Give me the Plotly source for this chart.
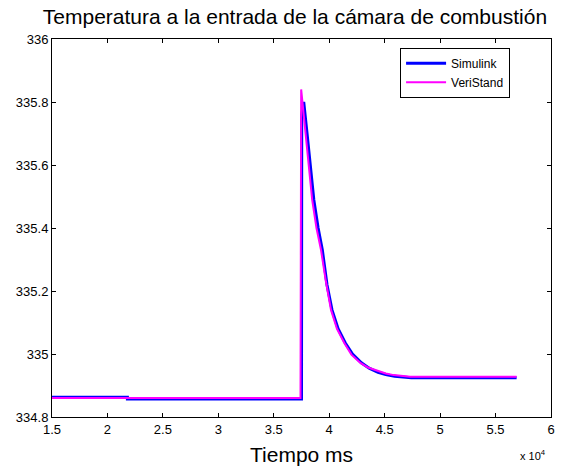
import plotly.graph_objects as go

# Simulink (blue) – time in ms, temperature
sim_t = [15000, 21800, 21800, 37500, 37520, 37700, 38000, 38300, 38610, 39000, 39380,
         39800, 40250, 40800, 41450, 42100, 42900, 43600, 44400, 45100, 45900, 47400, 56900]
sim_v = [334.863, 334.863, 334.857, 334.857, 335.76, 335.80, 335.70, 335.59, 335.49, 335.40, 335.33,
         335.22, 335.14, 335.08, 335.035, 335.00, 334.972, 334.955, 334.942, 334.935, 334.929, 334.925, 334.925]

# VeriStand (magenta)
ver_t = [15000, 37410, 37470, 37700, 37980, 38200, 38460, 38850, 39260, 39700, 40160,
         40700, 41360, 42000, 42840, 43500, 44340, 45100, 45830, 47290, 56900]
ver_v = [334.860, 334.860, 335.84, 335.76, 335.66, 335.57, 335.49, 335.40, 335.33, 335.23, 335.14,
         335.08, 335.035, 334.998, 334.971, 334.957, 334.946, 334.938, 334.933, 334.928, 334.928]

x_tickvals = [15000, 20000, 25000, 30000, 35000, 40000, 45000, 50000, 55000, 60000]
x_ticktext = ["1.5", "2", "2.5", "3", "3.5", "4", "4.5", "5", "5.5", "6"]
y_tickvals = [334.8, 335.0, 335.2, 335.4, 335.6, 335.8, 336.0]
y_ticktext = ["334.8", "335", "335.2", "335.4", "335.6", "335.8", "336"]

FONT = "Liberation Sans, Arial, sans-serif"

fig = go.Figure()
fig.add_trace(go.Scatter(x=sim_t, y=sim_v, mode="lines", name="Simulink",
                         line=dict(color="#0000FF", width=3)))
fig.add_trace(go.Scatter(x=ver_t, y=ver_v, mode="lines", name="VeriStand",
                         line=dict(color="#FF00FF", width=2)))

fig.update_layout(
    width=565, height=466,
    margin=dict(l=52, r=10, t=39, b=49),
    paper_bgcolor="white", plot_bgcolor="white",
    font=dict(family=FONT, color="black", size=12),
    title=dict(text="Temperatura a la entrada de la cámara de combustión",
               x=0.522, xanchor="center", y=0.964, yanchor="middle",
               font=dict(size=21, family=FONT, color="black")),
    showlegend=True,
    legend=dict(x=0.918, y=0.977, xanchor="right", yanchor="top",
                bgcolor="white", bordercolor="black", borderwidth=1,
                font=dict(size=12, family=FONT, color="black"),
                tracegroupgap=0, itemwidth=40),
    annotations=[
        dict(text="Tiempo ms", x=0.5, y=-0.1, xref="paper", yref="paper",
             xanchor="center", yanchor="middle", showarrow=False,
             font=dict(size=21, family=FONT, color="black")),
        dict(text="x 10<sup>4</sup>", x=0.963, y=-0.1, xref="paper", yref="paper",
             xanchor="center", yanchor="middle", showarrow=False,
             font=dict(size=11, family=FONT, color="black")),
    ],
)
fig.update_xaxes(range=[15000, 60000], tickvals=x_tickvals, ticktext=x_ticktext,
                 showgrid=False, zeroline=False, showline=True, linecolor="black",
                 linewidth=1, mirror="ticks", ticks="inside", ticklen=4, tickcolor="black",
                 tickfont=dict(size=13, family=FONT, color="black"))
fig.update_yaxes(range=[334.8, 336.0], tickvals=y_tickvals, ticktext=y_ticktext,
                 showgrid=False, zeroline=False, showline=True, linecolor="black",
                 linewidth=1, mirror="ticks", ticks="inside", ticklen=4, tickcolor="black",
                 tickfont=dict(size=13, family=FONT, color="black"))

fig.write_html("out.html")
